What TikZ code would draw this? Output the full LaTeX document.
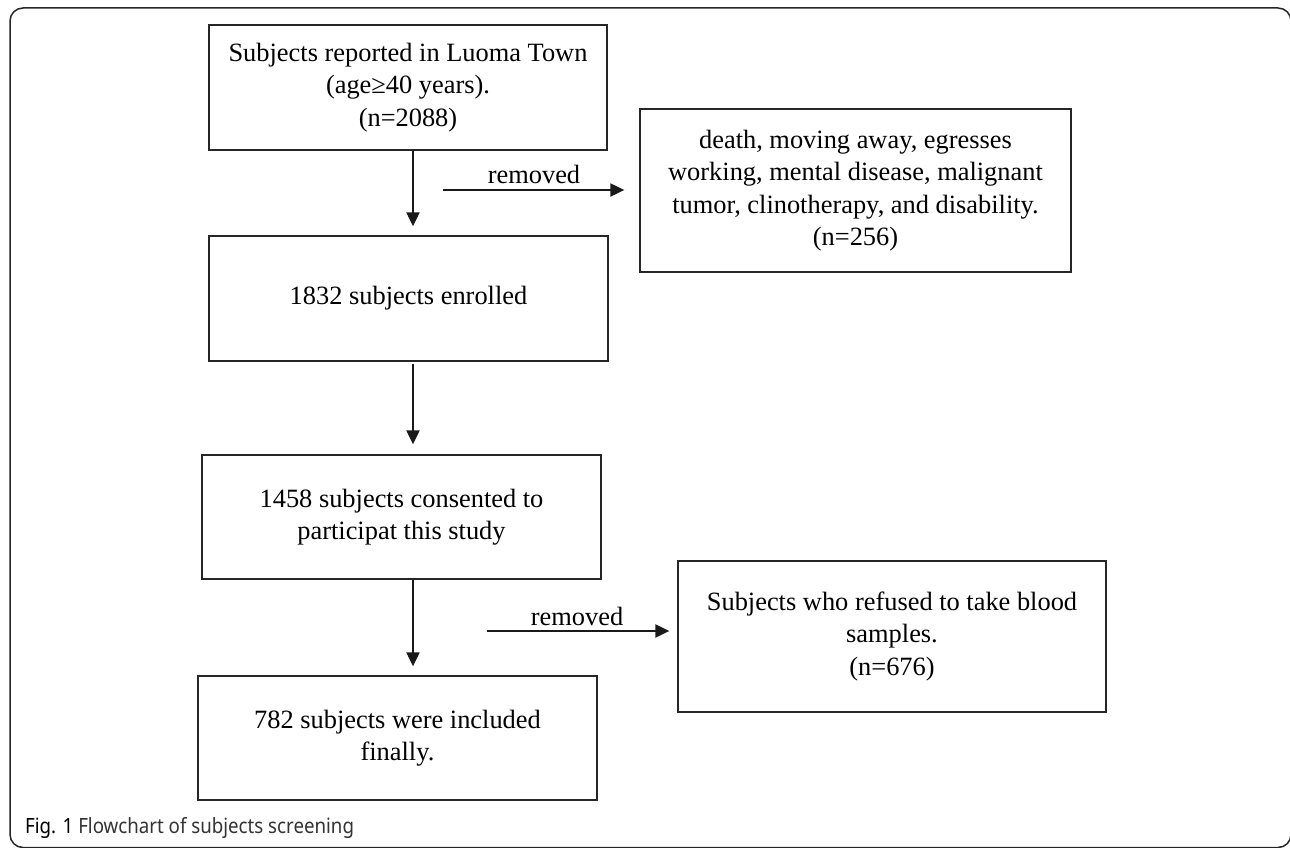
\documentclass[tikz,border=0pt]{standalone}
\usepackage{fontspec}
\usepackage{graphicx}
\setmainfont{Liberation Serif}
\newfontfamily\capfont{Noto Sans}
\usetikzlibrary{arrows.meta}
\begin{document}
\begin{tikzpicture}[x=1pt,y=-1pt,
  box/.style={draw=black!85, line width=1.3pt, rectangle, align=center, inner sep=0pt,
    font=\fontsize{26.4}{32.5}\selectfont},
  arr/.style={line width=2pt, black!90, -{Triangle[length=14pt,width=13pt]}},
  lbl/.style={font=\fontsize{26.4}{32}\selectfont, anchor=base, inner sep=0pt},
  frame/.style={line width=1.5pt, draw=black!85, rounded corners=13pt}]
\useasboundingbox (0,0) rectangle (1290,848);
\draw[frame] (10,8) rectangle (1291,847.5);

\node[box, minimum width=398pt, minimum height=125pt] (b1) at (408,87.5)
  {Subjects reported in Luoma Town\\(age≥40 years).\\(n=2088)};
\node[box, minimum width=431pt, minimum height=163pt] (b2) at (855.5,190.5)
  {death, moving away, egresses\\working, mental disease, malignant\\tumor, clinotherapy, and disability.\\(n=256)};
\node[box, minimum width=399pt, minimum height=125pt] (b3) at (408.5,298.5)
  {1832 subjects enrolled};
\node[box, minimum width=399pt, minimum height=124pt] (b4) at (401.5,517)
  {1458 subjects consented to\\participat this study};
\node[box, minimum width=428pt, minimum height=151pt] (b5) at (892,636.5)
  {Subjects who refused to take blood\\samples.\\(n=676)};
\node[box, minimum width=399pt, minimum height=124pt] (b6) at (397.5,738)
  {782 subjects were included\\finally.};

\coordinate (ax) at (413,0);
\draw[arr, shorten >=9pt] (b1.south -| ax) -- (b3.north -| ax);
\draw[arr, shorten <=2pt, shorten >=10pt] (b3.south -| ax) -- (b4.north -| ax);
\draw[arr, shorten >=9pt] (b4.south -| ax) -- (b6.north -| ax);

\coordinate (r1) at (443,190);
\draw[arr, shorten >=15pt] (r1) -- (r1 -| b2.west);
\node[lbl] (l1) at (534,183) {removed};

\coordinate (r2) at (487,631);
\draw[arr, shorten >=8pt] (r2) -- (r2 -| b5.west);
\node[lbl] (l2) at (577,625) {removed};

\node[anchor=base west, inner sep=0pt, text=black!80, font=\capfont\fontsize{21}{25}\selectfont] (cap) at (25,833)
  {\scalebox{0.89}[1]{\textbf{\color{black}Fig. 1} Flowchart of subjects screening}};
\end{tikzpicture}
\end{document}
